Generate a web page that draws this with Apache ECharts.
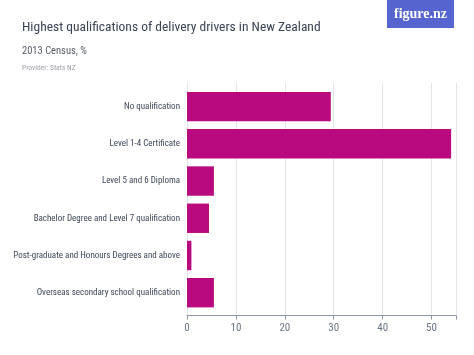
<!DOCTYPE html>
<html><head><meta charset="utf-8">
<script src="https://cdn.jsdelivr.net/npm/echarts@6/dist/echarts.min.js"></script>
<style>html,body{margin:0;padding:0;background:#fff}#c{width:474px;height:355px}</style>
</head><body><div id="c"></div>
<script>
const categories = [
  "No qualification",
  "Level 1-4 Certificate",
  "Level 5 and 6 Diploma",
  "Bachelor Degree and Level 7 qualification",
  "Post-graduate and Honours Degrees and above",
  "Overseas secondary school qualification"
];
const values = [29.4, 54.0, 5.5, 4.5, 0.9, 5.5];
const xTicks = [0, 10, 20, 30, 40, 50];

const FONT = '"Roboto Condensed", Roboto, sans-serif';
const chart = echarts.init(document.getElementById('c'), null, {renderer: 'canvas'});
const L = 187, R = 18;
chart.setOption({
  animation: false,
  backgroundColor: '#fff',
  title: [
    {text: 'Highest qualifications of delivery drivers in New Zealand', left: 17, top: 16,
     textStyle: {fontFamily: FONT, fontSize: 13.5, fontWeight: 'normal', color: '#3a4455'}},
    {text: '2013 Census, %', left: 17, top: 41,
     textStyle: {fontFamily: FONT, fontSize: 10.5, fontWeight: 'normal', color: '#555c66'}},
    {text: 'Provider: Stats NZ', left: 17, top: 59.5,
     textStyle: {fontFamily: FONT, fontSize: 7.5, fontWeight: 'normal', color: '#9a9ea6'}}
  ],
  graphic: [
    {type: 'rect', left: 387, top: 0, shape: {width: 67, height: 28}, style: {fill: '#5664cf'}},
    {type: 'text', x: 420.5, y: 14, style: {text: 'figure.nz', fill: '#fff', align: 'center', verticalAlign: 'middle',
      font: 'bold 14px "Liberation Serif", "DejaVu Serif", serif'}}
  ],
  grid: [
    {left: L, right: R, top: 83, bottom: 39.5, outerBoundsMode: 'none', containLabel: false},
    {left: L, right: R, top: 88, bottom: 43.7, outerBoundsMode: 'none', containLabel: false}
  ],
  xAxis: [
    {gridIndex: 0, type: 'value', min: 0, max: 55, interval: 10,
     axisLine: {show: true, lineStyle: {color: '#8e95a3'}},
     axisTick: {show: true, length: 4, lineStyle: {color: '#8e95a3'}},
     axisLabel: {color: '#6b7587', fontFamily: FONT, fontSize: 11, margin: 7,
       formatter: v => xTicks.includes(v) ? String(v) : ''},
     splitLine: {show: true, lineStyle: {color: '#e5e5e8'}}},
    {gridIndex: 1, type: 'value', min: 0, max: 55, show: false}
  ],
  yAxis: [
    {gridIndex: 0, type: 'category', data: categories, show: false},
    {gridIndex: 1, type: 'category', data: categories, inverse: true,
     axisLine: {show: false}, axisTick: {show: false},
     axisLabel: {color: '#3d465a', fontFamily: FONT, fontSize: 9, margin: 7}}
  ],
  series: [{
    type: 'bar', xAxisIndex: 1, yAxisIndex: 1, data: values,
    barCategoryGap: '21%',
    itemStyle: {color: '#b8097f'}
  }]
});
</script></body></html>
